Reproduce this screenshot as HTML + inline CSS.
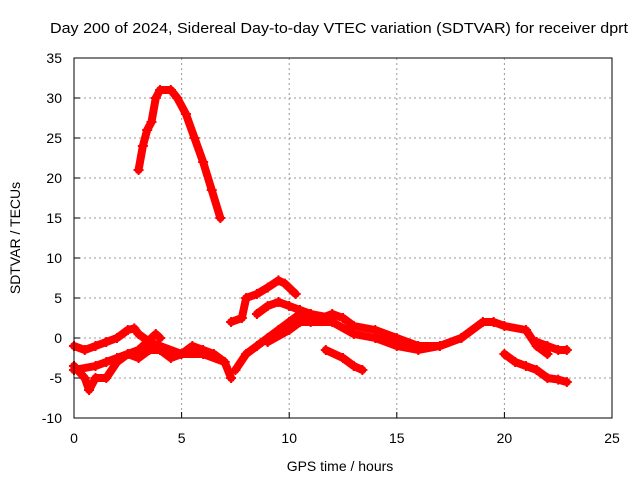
<!DOCTYPE html>
<html><head><meta charset="utf-8"><style>
body{margin:0;background:#fff}
svg text{font-family:"Liberation Sans",sans-serif;fill:#000}
</style></head><body>
<svg id="chart" width="640" height="480">
<text x="50" y="33" font-size="15" textLength="578" lengthAdjust="spacingAndGlyphs">Day 200 of 2024, Sidereal Day-to-day VTEC variation (SDTVAR) for receiver dprt</text>
<text x="340" y="471" font-size="14" text-anchor="middle">GPS time / hours</text>
<text transform="translate(20,238) rotate(-90)" font-size="14" text-anchor="middle">SDTVAR / TECUs</text>
<g id="grid"></g><g id="series"></g>
<rect x="74" y="58" width="538" height="360" fill="none" stroke="#000" stroke-width="1"/>
</svg>
<script>
const xTicks=[0,5,10,15,20,25];
const yTicks=[-10,-5,0,5,10,15,20,25,30,35];
const seriesA=[[3.0,21],[3.2,24],[3.4,26],[3.6,27],[3.8,30],[4.0,31],[4.5,31],[4.8,30],[5.2,28],[5.6,25],[6.0,22],[6.4,18.5],[6.8,15]];
const seriesB=[[7.3,2],[7.8,2.5],[8.0,5],[8.5,5.5],[9.0,6.3],[9.5,7.2],[9.8,6.8],[10.3,5.5]];
const seriesC=[[7.5,-4],[8.0,-2],[8.5,-1],[9,0],[9.5,1],[10,2],[10.5,3],[11,3],[11.5,2.5],[12,3],[12.5,2.5],[13,1.5],[14,1],[15,0],[16,-1],[17,-1],[18,0],[19,2],[19.5,2],[20,1.5],[21,1],[21.5,-1],[22,-2]];
const seriesD=[[8.5,3],[9,4],[9.5,4.5],[10,4],[10.5,3.5],[11,3],[12,2.5]];
const seriesE=[[0,-1],[0.5,-1.5],[1,-1],[1.5,-0.5],[2,0],[2.5,1],[2.8,1.2],[3,0.5],[3.5,-0.5],[4,-1],[5,-2],[6,-2],[7,-3],[7.3,-5]];
const seriesF=[[0,-3.5],[0.5,-5],[0.7,-6.5],[1,-5],[1.5,-5],[2,-3],[2.5,-2],[3,-2.5],[3.5,-1.5],[4,-1.5],[4.5,-2.5],[5,-2],[5.5,-1],[6,-1.5],[6.5,-2],[7,-3]];
const seriesG=[[0,-4],[1,-3.5],[1.5,-3],[2,-2.5],[3,-1.5],[3.8,0.5],[4,0]];
const seriesH=[[11.7,-1.5],[12.5,-2.5],[13,-3.5],[13.4,-4]];
const seriesI=[[20,-2],[20.5,-3],[21,-3.5],[21.5,-4],[22,-5],[22.5,-5.2],[22.9,-5.5]];
const seriesJ=[[21.5,-0.5],[22,-1],[22.5,-1.5],[22.9,-1.5]];
const seriesK=[[9,-0.5],[10,1],[10.5,2],[11,2],[12,2],[13,0.5],[14,0],[15,-1],[16,-1.5],[17,-1],[18,0]];
const allSeries=[seriesA,seriesB,seriesC,seriesD,seriesE,seriesF,seriesG,seriesH,seriesI,seriesJ,seriesK];
const NS="http://www.w3.org/2000/svg";
const X0=74,X1=612,Y0=418,Y1=58;
const xs=v=>X0+(v-0)/25*(X1-X0);
const ys=v=>Y0-(v+10)/45*(Y0-Y1);
const grid=document.getElementById('grid'),ser=document.getElementById('series');
function mk(t,a,p){const e=document.createElementNS(NS,t);for(const k in a)e.setAttribute(k,a[k]);p.appendChild(e);return e;}
xTicks.forEach(t=>{const x=xs(t);
 if(t>0&&t<25){const g=mk('line',{x1:x,x2:x,y1:Y1,y2:Y0,stroke:'#999','stroke-dasharray':'2,3'},grid);}
 const tk=mk('line',{x1:x,x2:x,y1:Y0,y2:Y0-6,stroke:'#000'},grid);
 const l=mk('text',{x:x,y:443,'font-size':14,'text-anchor':'middle'},grid);l.textContent=t;});
yTicks.forEach(t=>{const y=ys(t);
 if(t>-10&&t<35){const g=mk('line',{x1:X0,x2:X1,y1:y,y2:y,stroke:'#999','stroke-dasharray':'2,3'},grid);}
 const tk=mk('line',{x1:X0,x2:X0+6,y1:y,y2:y,stroke:'#000'},grid);
 const l=mk('text',{x:62,y:y+5,'font-size':14,'text-anchor':'end'},grid);l.textContent=t;});
allSeries.forEach(s=>{
 const pl=mk('polyline',{points:s.map(p=>xs(p[0])+','+ys(p[1])).join(' '),fill:'none',stroke:'#f00','stroke-width':8,'stroke-linejoin':'round','stroke-linecap':'round'},ser);
 
 
 s.forEach(p=>{const x=xs(p[0]),y=ys(p[1]);
  const m=mk('path',{d:`M${x-5},${y}H${x+5}M${x},${y-5}V${y+5}`,stroke:'#f00','stroke-width':2},ser);
  
  });
});
</script>
</body></html>
